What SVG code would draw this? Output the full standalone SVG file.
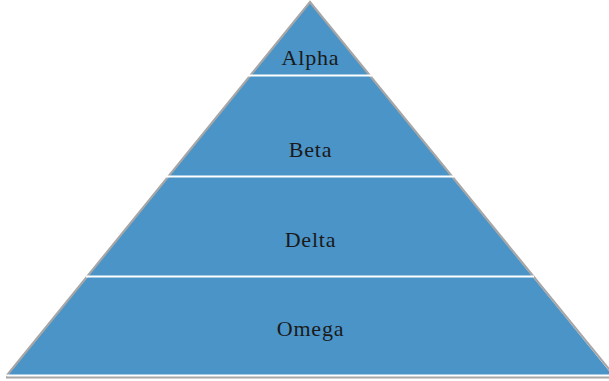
<svg xmlns="http://www.w3.org/2000/svg" width="609" height="381" viewBox="0 0 609 381">
<style>
.layer{fill:#4a94c8;stroke:none}
.edge{fill:none;stroke:#a6a6a6;stroke-width:2.2}
.sep{stroke:#ffffff;stroke-width:2}
.lbl{font-family:"Liberation Serif","Times New Roman",serif;font-size:22px;letter-spacing:0.8px;fill:#1a1a1a;text-anchor:middle}
</style>
<rect width="609" height="381" fill="#ffffff"/>
<g id="alpha">
<polygon class="layer" points="310,2 251,75 369,75"/>
<text class="lbl" x="310.5" y="65">Alpha</text>
</g>
<g id="beta">
<polygon class="layer" points="251,75 369,75 451,176 169,176"/>
<text class="lbl" x="310.5" y="157">Beta</text>
</g>
<g id="delta">
<polygon class="layer" points="169,176 451,176 532,276 88,276"/>
<text class="lbl" x="310.5" y="247">Delta</text>
</g>
<g id="omega">
<polygon class="layer" points="88,276 532,276 613,376 6,376"/>
<text class="lbl" x="310.5" y="336">Omega</text>
</g>
<g id="connectors">
<polyline class="edge" points="6,376.5 310,2 615,376.5"/>
<line class="sep" x1="248" y1="75.5" x2="372" y2="75.5"/>
<line class="sep" x1="166" y1="176.5" x2="454" y2="176.5"/>
<line class="sep" x1="86" y1="276.5" x2="534" y2="276.5"/>
<line class="sep" x1="4" y1="375.5" x2="609" y2="375.5"/>
<line class="edge" x1="6" y1="377.5" x2="609" y2="377.5"/>
</g>
</svg>
